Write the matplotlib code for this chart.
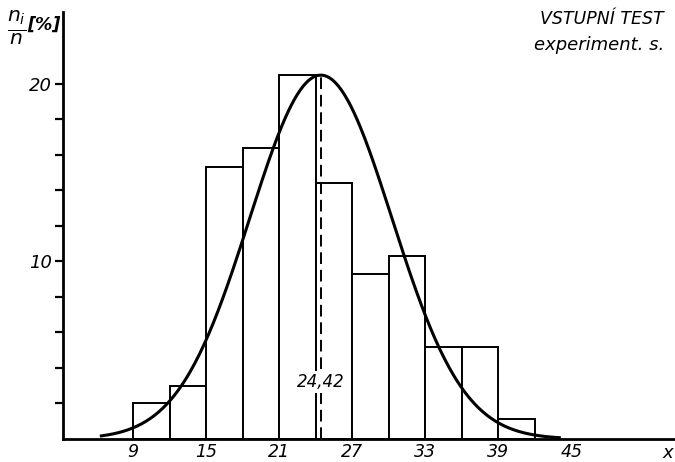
import matplotlib

matplotlib.use("Agg")
import matplotlib.pyplot as plt
import numpy as np

# histogram of the entrance test, experimental group
bin_edges = [9, 12, 15, 18, 21, 24, 27, 30, 33, 36, 39, 42]
shares = [2.0, 3.0, 15.3, 16.4, 20.5, 14.4, 9.3, 10.3, 5.2, 5.2, 1.1]

# fitted normal curve
mean = 24.42
sigma = 5.84
curve_from, curve_to = 6.4, 44.0

xticks = [9, 15, 21, 27, 33, 39, 45]
yticks_minor = [2, 4, 6, 8, 12, 14, 16, 18]
yticks_major = [10, 20]

FONT = "DejaVu Sans"

fig = plt.figure(figsize=(6.75, 4.62), dpi=100)
ax = fig.add_axes([63 / 675, 23 / 462, 1 - 63 / 675, (439 - 12) / 462])

widths = np.diff(bin_edges)
ax.bar(bin_edges[:-1], shares, width=widths, align="edge",
       facecolor="white", edgecolor="black", linewidth=1.4, zorder=2)

xs = np.linspace(curve_from, curve_to, 300)
peak = 100.0 * widths[0] / (sigma * np.sqrt(2 * np.pi))
ys = peak * np.exp(-0.5 * ((xs - mean) / sigma) ** 2)
ax.plot(xs, ys, color="black", linewidth=2.2, zorder=4)

ax.plot([mean, mean], [0, peak], color="black", linewidth=1.4,
        linestyle=(0, (6, 3)), zorder=3)
ax.text(mean, 3.2, "24,42", ha="center", va="center", fontsize=12,
        family=FONT, style="italic", zorder=5,
        bbox=dict(facecolor="white", edgecolor="none", pad=1.5))

ax.set_xlim(3.25, 53.5)
ax.set_ylim(0, 24.05)
for side in ("top", "right"):
    ax.spines[side].set_visible(False)
ax.spines["left"].set_linewidth(2.0)
ax.spines["bottom"].set_linewidth(2.0)

ax.set_xticks(xticks)
ax.set_xticklabels([str(t) for t in xticks], fontsize=12.5, family=FONT, style="italic")
ax.tick_params(axis="x", length=0, pad=3)
ax.set_yticks(yticks_major)
ax.set_yticklabels([str(t) for t in yticks_major], fontsize=13, family=FONT, style="italic")
ax.set_yticks(yticks_minor, minor=True)
ax.tick_params(axis="y", which="both", direction="out", length=6, width=1.6, pad=2)

fig.text(673 / 675, 1 - 453 / 462, "x", ha="right", va="center", fontsize=13,
         family=FONT, style="italic")
fig.text(664 / 675, 1 - 19 / 462, "VSTUPNÍ TEST", ha="right", va="center",
         fontsize=12.5, family=FONT, style="italic")
fig.text(664 / 675, 1 - 45 / 462, "experiment. s.", ha="right", va="center",
         fontsize=13, family=FONT, style="italic")
fig.text(17 / 675, 1 - 28 / 462, r"$\frac{n_i}{n}$", ha="center", va="center",
         fontsize=21)
fig.text(44 / 675, 1 - 25 / 462, "[%]", ha="center", va="center", fontsize=12.5,
         family=FONT, style="italic", weight="bold")

fig.savefig("out.png", dpi=100)
